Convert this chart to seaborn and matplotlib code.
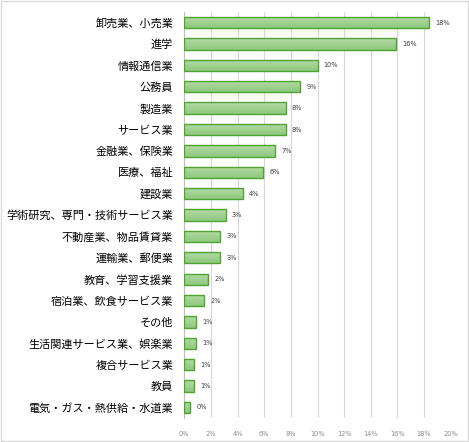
import matplotlib
matplotlib.use("Agg")
import matplotlib.pyplot as plt
import seaborn as sns
import numpy as np
import pandas as pd
from matplotlib.colors import LinearSegmentedColormap
from matplotlib.ticker import FuncFormatter

# career destinations (share of graduates, %)
categories = [
    "卸売業、小売業", "進学", "情報通信業", "公務員", "製造業", "サービス業",
    "金融業、保険業", "医療、福祉", "建設業", "学術研究、専門・技術サービス業",
    "不動産業、物品賃貸業", "運輸業、郵便業", "教育、学習支援業",
    "宿泊業、飲食サービス業", "その他", "生活関連サービス業、娯楽業",
    "複合サービス業", "教員", "電気・ガス・熱供給・水道業",
]
values = [18.4, 15.9, 10.0, 8.7, 7.6, 7.6, 6.8, 5.9, 4.4, 3.1,
          2.7, 2.7, 1.8, 1.5, 0.9, 0.9, 0.7, 0.7, 0.45]
xticks = [0, 2, 4, 6, 8, 10, 12, 14, 16, 18, 20]

df = pd.DataFrame({"category": categories, "value": values})

sns.set_style("white")
plt.rcParams["font.family"] = ["Noto Sans CJK JP", "DejaVu Sans"]

fig = plt.figure(figsize=(4.69, 4.42), dpi=100)
ax = fig.add_axes([0.393, 0.054, 0.568, 0.919])

sns.barplot(data=df, y="category", x="value", orient="h", ax=ax,
            color="#a3d393", edgecolor="#4fa52f", linewidth=1.0,
            width=0.53, zorder=3)

# gradient fill inside each bar (lighter top, darker bottom)
cmap = LinearSegmentedColormap.from_list("g", ["#b4dca6", "#8fc77f"])
grad = np.linspace(0, 1, 64).reshape(-1, 1)
ax.set_xlim(0, 20)
ax.set_ylim(len(categories) - 0.5, -0.5)
for p in ax.patches:
    x0, y0 = p.get_x(), p.get_y()
    w, h = p.get_width(), p.get_height()
    im = ax.imshow(grad, cmap=cmap, aspect="auto", zorder=3.5,
                   extent=[x0, x0 + w, y0 + h, y0], origin="upper")
    im.set_clip_path(p)
    p.set_facecolor("none")
    p.set_zorder(4)

for i, v in enumerate(values):
    ax.annotate(f"{v:.0f}%", (v, i), xytext=(4.5, 0), textcoords="offset points",
                va="center", ha="left", fontsize=4.8, color="#404040",
                family="DejaVu Sans")

ax.set_xticks(xticks)
ax.xaxis.set_major_formatter(FuncFormatter(lambda x, _: f"{x:.0f}%"))
ax.grid(axis="x", color="#d9d9d9", linewidth=0.8, zorder=0)
ax.set_xlabel("")
ax.set_ylabel("")
for s in ["top", "right", "bottom"]:
    ax.spines[s].set_visible(False)
ax.spines["left"].set_color("#bfbfbf")
ax.spines["left"].set_linewidth(0.8)
ax.tick_params(axis="x", length=0, labelsize=4.8, labelcolor="#8c8c8c", pad=9)
ax.tick_params(axis="y", length=0, labelsize=8, labelcolor="#000000", pad=8)
for t in ax.get_xticklabels():
    t.set_family("DejaVu Sans")

# light chart border
fig.patches.append(plt.Rectangle((0.002, 0.002), 0.996, 0.996, transform=fig.transFigure,
                                 fill=False, edgecolor="#d9d9d9", linewidth=1.0))

fig.savefig("out.png", dpi=100)
